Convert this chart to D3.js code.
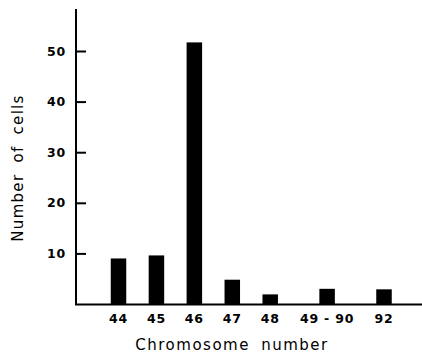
<!DOCTYPE html>
<html>
<head>
<meta charset="utf-8">
<script src="https://cdn.jsdelivr.net/npm/d3@7"></script>
<style>
  body { margin: 0; background: #fff; }
  svg text { font-family: "DejaVu Sans", sans-serif; fill: #000; }
</style>
</head>
<body>
<div id="chart"></div>
<script>
// data
var categories = ["44", "45", "46", "47", "48", "49 - 90", "92"];
var cells = [9, 9.6, 51.7, 4.8, 1.9, 3, 2.9];
var yTicks = [10, 20, 30, 40, 50];

var width = 422, height = 353;
var svg = d3.select("#chart").append("svg")
  .attr("width", width)
  .attr("height", height);

// slot index per bar (gap before 49-90 and 92)
var slot = [0, 1, 2, 3, 4, 5.5, 7];

var x = d3.scaleLinear().domain([0, 7]).range([118.5, 384]);
var y = d3.scaleLinear().domain([0, 50]).range([304, 51]);

var barW = 15.5;

// bars
svg.append("g")
  .selectAll("rect")
  .data(cells)
  .enter().append("rect")
  .attr("x", function(d, i) { return x(slot[i]) - barW / 2; })
  .attr("y", function(d) { return y(d); })
  .attr("width", barW)
  .attr("height", function(d) { return y(0) - y(d); })
  .attr("fill", "#000");

// y axis (ticks point inward)
var yAxis = d3.axisRight(y)
  .tickValues(yTicks)
  .tickSize(10)
  .tickFormat("");
var gy = svg.append("g")
  .attr("transform", "translate(76,0)")
  .call(yAxis);
gy.select(".domain").remove();
gy.selectAll(".tick line").attr("stroke", "#000").attr("stroke-width", 2);

svg.append("line")
  .attr("x1", 76).attr("x2", 76)
  .attr("y1", 9).attr("y2", y(0) + 1)
  .attr("stroke", "#000").attr("stroke-width", 2);

svg.append("g").selectAll("text")
  .data(yTicks)
  .enter().append("text")
  .attr("x", 66)
  .attr("y", function(d) { return y(d); })
  .attr("dy", "0.36em")
  .attr("text-anchor", "end")
  .attr("font-size", 12.5)
  .attr("font-weight", "bold")
  .attr("letter-spacing", 0.8)
  .text(function(d) { return d; });

// baseline
svg.append("line")
  .attr("x1", 75).attr("x2", width)
  .attr("y1", y(0) + 0.5).attr("y2", y(0) + 0.5)
  .attr("stroke", "#000").attr("stroke-width", 2);

// x labels
svg.append("g").selectAll("text")
  .data(categories)
  .enter().append("text")
  .attr("x", function(d, i) { return x(slot[i]); })
  .attr("y", 323)
  .attr("text-anchor", "middle")
  .attr("font-size", 12.5)
  .attr("font-weight", "bold")
  .attr("letter-spacing", 0.8)
  .text(function(d) { return d; });

// axis titles
svg.append("text")
  .attr("x", 232)
  .attr("y", 350)
  .attr("text-anchor", "middle")
  .attr("font-size", 15)
  .attr("letter-spacing", 1.5)
  .attr("word-spacing", 5)
  .text("Chromosome number");

svg.append("text")
  .attr("transform", "translate(23,168) rotate(-90)")
  .attr("text-anchor", "middle")
  .attr("font-size", 15)
  .attr("letter-spacing", 1.3)
  .attr("word-spacing", 5)
  .text("Number of cells");
</script>
</body>
</html>
